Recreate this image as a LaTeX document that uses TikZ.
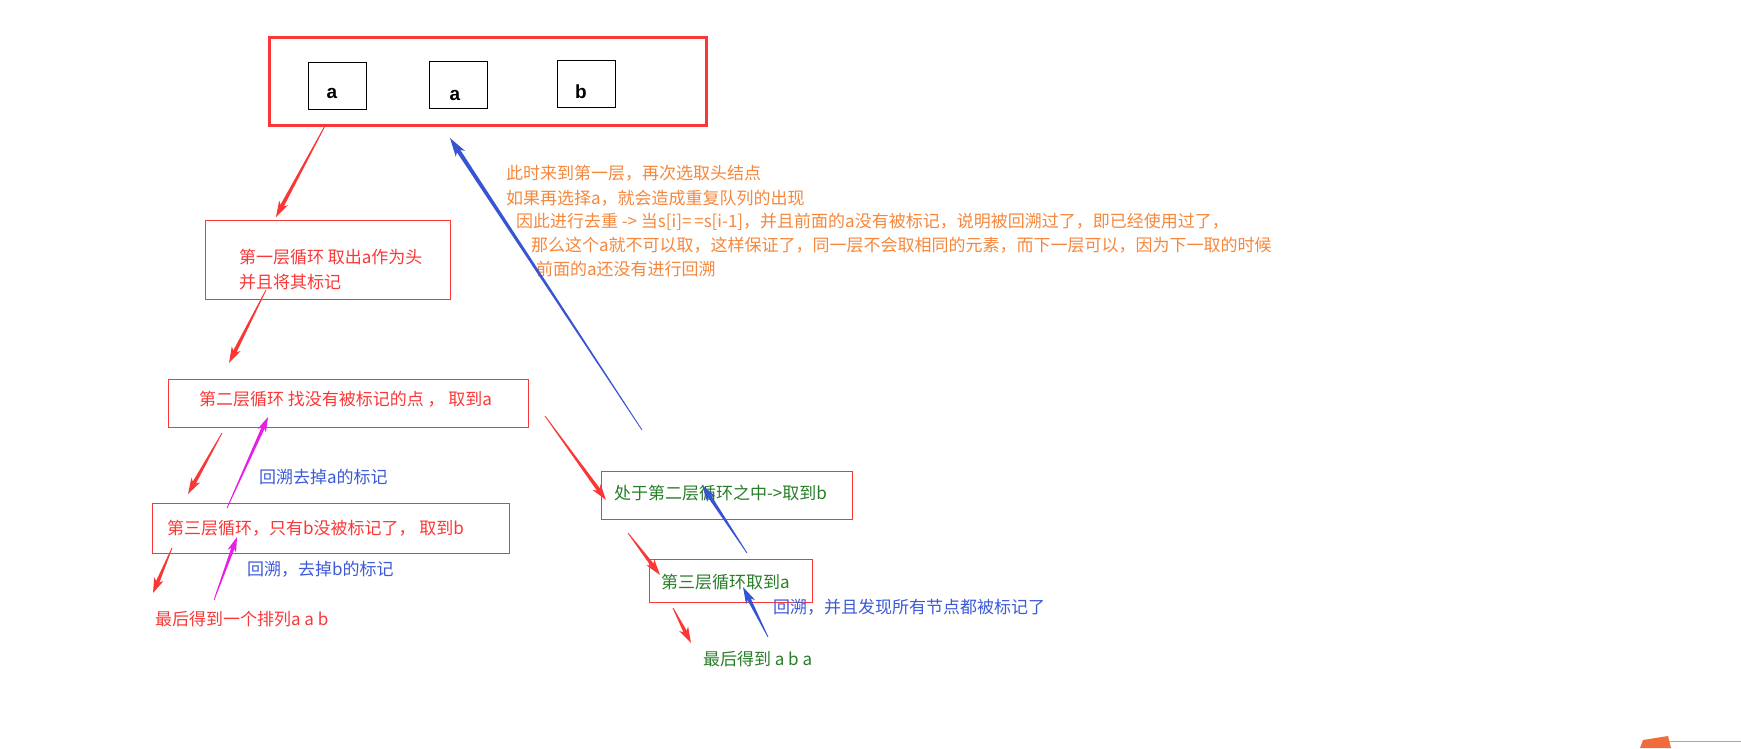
\documentclass[tikz,border=0pt]{standalone}
\usepackage{fontspec}
\setmainfont{Noto Sans CJK SC}
\newfontfamily\latb{Liberation Sans}
\usetikzlibrary{calc}
\definecolor{cred}{RGB}{250,55,55}
\definecolor{corange}{RGB}{245,135,60}
\definecolor{cblue}{RGB}{60,90,215}
\definecolor{carrow}{RGB}{55,85,210}
\definecolor{cgreen}{RGB}{40,125,40}
\definecolor{cmag}{RGB}{230,30,230}
\definecolor{cgray}{RGB}{170,170,170}
\definecolor{cor2}{RGB}{242,107,58}
% tapered arrow: color, tail, head, head length, head half width
\newcommand\tarr[5]{%
  \coordinate (tA) at ($(#3)!#4!(#2)$);
  \coordinate (tN) at ($(#3)!0.72*#4!(#2)$);
  \fill[#1] ($(#2)!0.4pt!90:(#3)$) -- ($(tN)!0.38*#5!90:(#3)$) -- ($(tN)!0.38*#5!-90:(#3)$) -- ($(#2)!0.4pt!-90:(#3)$) -- cycle;
  \fill[#1] (#3) -- ($(tA)!#5!90:(#3)$) -- (tN) -- ($(tA)!#5!-90:(#3)$) -- cycle;
}
\begin{document}
\begin{tikzpicture}[x=1pt,y=-1pt,
  every node/.style={inner sep=0pt,outer sep=0pt},
  txt/.style={anchor=west,font=\fontsize{17}{25}\selectfont},
  redtxt/.style={txt,text=cred},
  bluetxt/.style={txt,text=cblue},
  greentxt/.style={txt,text=cgreen},
  orangetxt/.style={txt,text=corange},
  rbox/.style={draw=cred,line width=1pt,anchor=north west},
  kbox/.style={draw=black,line width=0.9pt,anchor=north west,minimum width=58pt,minimum height=47pt},
  letter/.style={font=\latb\bfseries\fontsize{19}{20}\selectfont,text=black}]
\useasboundingbox (0,0) rectangle (1741,748);

% top container
\node[draw=cred,line width=3pt,anchor=north west,minimum width=437pt,minimum height=88pt] (top) at (269,37) {};
\node[kbox] (k1) at (308,62) {};
\node[kbox] (k2) at (429,61) {};
\node[kbox] (k3) at (557,60) {};
\node[letter] (l1) at (332,93) {a};
\node[letter] (l2) at (455,95) {a};
\node[letter] (l3) at (581,92) {b};

% left column
\node[rbox,minimum width=245pt,minimum height=79pt] (b1) at (205,220) {};
\node[redtxt,align=left] (t1) at (239,269.5) {第一层循环 取出a作为头\\并且将其标记};
\node[rbox,minimum width=360pt,minimum height=48pt] (b2) at (168,379) {};
\node[redtxt] (t2) at (199,399) {第二层循环 找没有被标记的点 ， 取到a};
\node[rbox,minimum width=357pt,minimum height=50pt] (b3) at (152,503) {};
\node[redtxt] (t3) at (167,528) {第三层循环，只有b没被标记了， 取到b};
\node[bluetxt] (u1) at (259,477) {回溯去掉a的标记};
\node[bluetxt] (u2) at (247,569) {回溯，去掉b的标记};
\node[redtxt] (r1) at (155,619) {最后得到一个排列a a b};

% right column
\node[rbox,minimum width=251pt,minimum height=48pt] (g1) at (601,471) {};
\node[greentxt] (gt1) at (614,493) {处于第二层循环之中->取到b};
\node[rbox,minimum width=163pt,minimum height=43pt] (g2) at (649,559) {};
\node[greentxt] (gt2) at (661,582) {第三层循环取到a};
\node[bluetxt] (u3) at (773,607) {回溯，并且发现所有节点都被标记了};
\node[greentxt] (r2) at (703,659) {最后得到 a b a};

% orange notes
\node[orangetxt] (o1) at (506,173) {此时来到第一层，再次选取头结点};
\node[orangetxt] (o2) at (506,198) {如果再选择a，就会造成重复队列的出现};
\node[orangetxt] (o3) at (516,222) {因此进行去重 -> 当s[i]=\,=s[i-1]，并且前面的a没有被标记，说明被回溯过了，即已经使用过了，};
\node[orangetxt] (o4) at (531,245) {那么这个a就不可以取，这样保证了，同一层不会取相同的元素，而下一层可以，因为下一取的时候};
\node[orangetxt] (o5) at (536,269) {前面的a还没有进行回溯};

% arrow end points
\coordinate (a1s) at (326,124); \coordinate (a1e) at (276,217);
\coordinate (a2s) at (266,290); \coordinate (a2e) at (229,363);
\coordinate (a3s) at (222,433); \coordinate (a3e) at (188,494);
\coordinate (m1s) at (227,508); \coordinate (m1e) at (268,417);
\coordinate (a4s) at (172,548); \coordinate (a4e) at (153,593);
\coordinate (m2s) at (214,600); \coordinate (m2e) at (237,537);
\coordinate (a5s) at (545,416); \coordinate (a5e) at (606,500);
\coordinate (a6s) at (628,533); \coordinate (a6e) at (660,575);
\coordinate (a7s) at (673,608); \coordinate (a7e) at (691,643);
\coordinate (bbs) at (642,430); \coordinate (bbe) at (450,138);
\coordinate (bs2) at (747,553); \coordinate (be2) at (702,485);
\coordinate (bs3) at (768,637); \coordinate (be3) at (743,587);

\tarr{cred}{a1s}{a1e}{16pt}{5pt}
\tarr{cred}{a2s}{a2e}{16pt}{5pt}
\tarr{cred}{a3s}{a3e}{16pt}{5pt}
\tarr{cmag}{m1s}{m1e}{15pt}{4.5pt}
\tarr{cred}{a4s}{a4e}{15pt}{5pt}
\tarr{cmag}{m2s}{m2e}{15pt}{4.5pt}
\tarr{cred}{a5s}{a5e}{16pt}{5pt}
\tarr{cred}{a6s}{a6e}{16pt}{5pt}
\tarr{cred}{a7s}{a7e}{16pt}{5pt}
\tarr{carrow}{bbs}{bbe}{19pt}{5.5pt}
\tarr{carrow}{bs2}{be2}{17pt}{5pt}
\tarr{carrow}{bs3}{be3}{17pt}{5pt}

% corner fragment
\draw[cgray,line width=1pt] (1667,741) -- (1741,741);
\fill[cor2] (1640,748) -- (1643,740) -- (1668,736) -- (1671,748) -- cycle;
\end{tikzpicture}
\end{document}
